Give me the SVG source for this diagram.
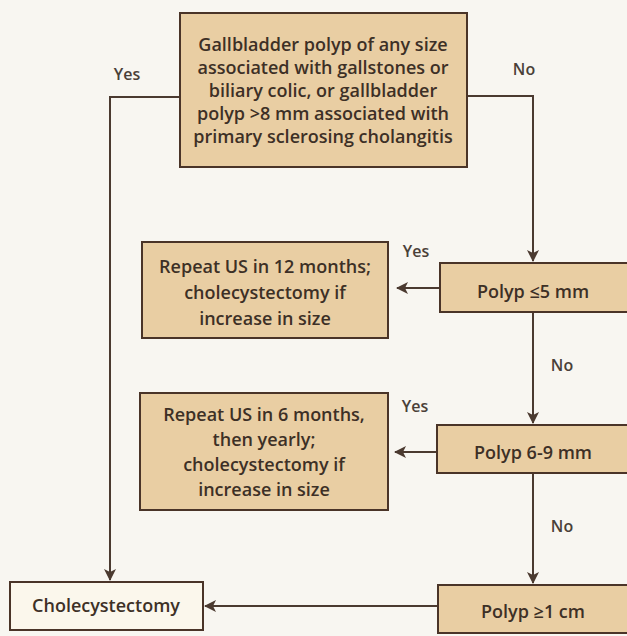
<svg xmlns="http://www.w3.org/2000/svg" width="627" height="636" viewBox="0 0 627 636">
<style>
.box{fill:#e9cea3;stroke:#4a3428;stroke-width:2}
.light{fill:#fbf7ec;stroke:#4a3428;stroke-width:2}
.t{font-family:"Open Sans",Lato,sans-serif;font-weight:600;fill:#3d3026;text-anchor:middle}
.m{font-size:18px}
.lab{font-size:16px;fill:#4a4038}
.c{fill:none;stroke:#4b3a30;stroke-width:2}
</style>
<defs>
<marker id="ah" viewBox="0 0 12 12" refX="11" refY="6" markerWidth="12" markerHeight="12" markerUnits="userSpaceOnUse" orient="auto">
<path d="M0,0 L12,6 L0,12 L3,6 Z" fill="#4b3a30"/>
</marker>
</defs>
<rect width="627" height="636" fill="#f8f6f1"/>
<g id="connectors">
<polyline class="c" points="180,97 110,97 110,580" marker-end="url(#ah)"/>
<polyline class="c" points="467,96 533,96 533,261" marker-end="url(#ah)"/>
<line class="c" x1="440" y1="288" x2="397" y2="288" marker-end="url(#ah)"/>
<line class="c" x1="533" y1="312" x2="533" y2="423" marker-end="url(#ah)"/>
<line class="c" x1="437" y1="452" x2="395" y2="452" marker-end="url(#ah)"/>
<line class="c" x1="533" y1="473" x2="533" y2="583" marker-end="url(#ah)"/>
<line class="c" x1="438" y1="606" x2="205" y2="606" marker-end="url(#ah)"/>
<text class="t lab" x="127" y="80">Yes</text>
<text class="t lab" x="524" y="75">No</text>
<text class="t lab" x="416" y="257">Yes</text>
<text class="t lab" x="562" y="371">No</text>
<text class="t lab" x="415" y="412">Yes</text>
<text class="t lab" x="562" y="532">No</text>
</g>
<g id="start">
<rect class="box" x="180" y="13" width="287" height="154"/>
<text class="t m" x="323" y="51">Gallbladder polyp of any size</text>
<text class="t m" x="323" y="74">associated with gallstones or</text>
<text class="t m" x="323" y="97">biliary colic, or gallbladder</text>
<text class="t m" x="323" y="120">polyp &gt;8 mm associated with</text>
<text class="t m" x="323" y="143">primary sclerosing cholangitis</text>
</g>
<g id="repeat12">
<rect class="box" x="142" y="242" width="246" height="96"/>
<text class="t m" x="265" y="273">Repeat US in 12 months;</text>
<text class="t m" x="265" y="299">cholecystectomy if</text>
<text class="t m" x="265" y="325">increase in size</text>
</g>
<g id="polyp5">
<rect class="box" x="440" y="263" width="200" height="49"/>
<text class="t m" x="533" y="298">Polyp ≤5 mm</text>
</g>
<g id="repeat6">
<rect class="box" x="140" y="393" width="248" height="117"/>
<text class="t m" x="264" y="421">Repeat US in 6 months,</text>
<text class="t m" x="264" y="446">then yearly;</text>
<text class="t m" x="264" y="471">cholecystectomy if</text>
<text class="t m" x="264" y="496">increase in size</text>
</g>
<g id="polyp69">
<rect class="box" x="437" y="425" width="200" height="48"/>
<text class="t m" x="533" y="459">Polyp 6-9 mm</text>
</g>
<g id="chole">
<rect class="light" x="10" y="582" width="193" height="48"/>
<text class="t m" x="106" y="612">Cholecystectomy</text>
</g>
<g id="polyp1">
<rect class="box" x="438" y="585" width="200" height="48"/>
<text class="t m" x="533" y="618">Polyp ≥1 cm</text>
</g>
</svg>
